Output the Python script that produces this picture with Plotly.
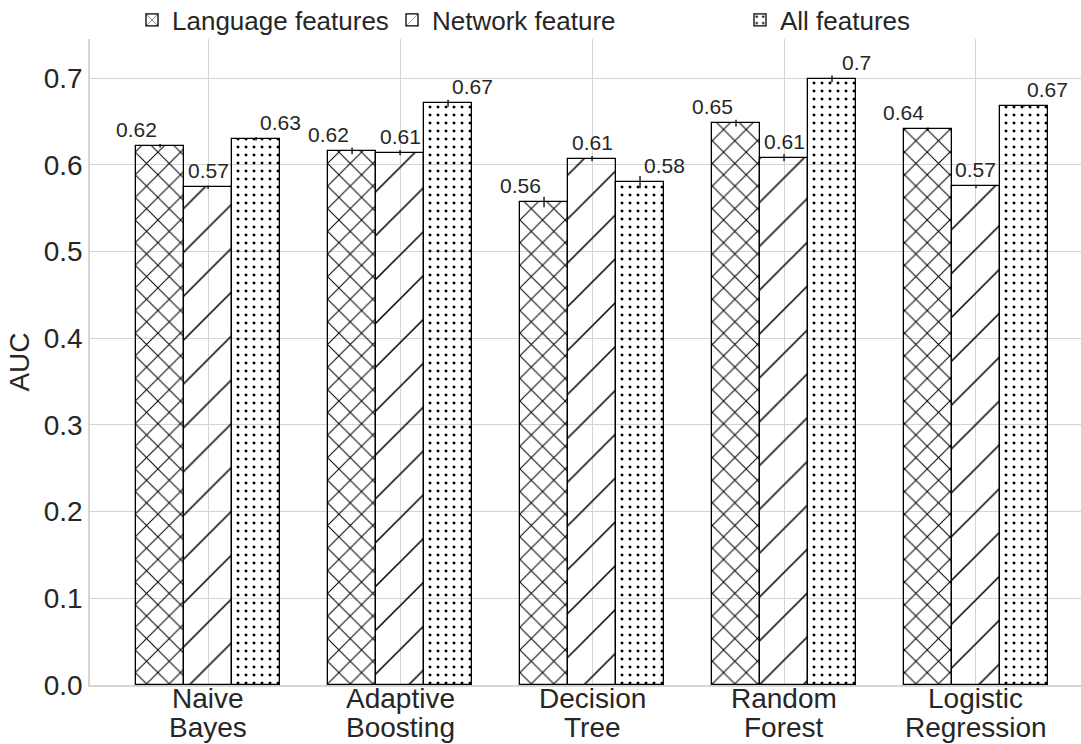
import plotly.graph_objects as go

categories = [("Naive", "Bayes"), ("Adaptive", "Boosting"), ("Decision", "Tree"), ("Random", "Forest"), ("Logistic", "Regression")]
language_auc = [0.622, 0.616, 0.557, 0.648, 0.641]
language_err = [0.002, 0.004, 0.006, 0.004, 0.002]
network_auc = [0.574, 0.614, 0.607, 0.608, 0.575]
network_err = [0.002, 0.003, 0.003, 0.004, 0.002]
all_auc = [0.630, 0.671, 0.580, 0.699, 0.668]
all_err = [0.002, 0.004, 0.007, 0.004, 0.001]
series_names = ["Language features", "Network feature", "All features"]

FONT = "Liberation Sans, Arial, sans-serif"
TXT = "#262626"
GRID = "#d4d4d4"
BW = 0.25
idx = list(range(len(categories)))

series = [
    (series_names[0], language_auc, language_err, "x", 16, 0.12, -1, "legend"),
    (series_names[1], network_auc, network_err, "/", 31, 0.05, 0, "legend2"),
    (series_names[2], all_auc, all_err, ".", 8, 0.11, 1, "legend3"),
]

fig = go.Figure()
annotations = []
for name, vals, errs, shape, size, sol, k, leg in series:
    xs = [i + k * BW for i in idx]
    fig.add_trace(go.Bar(
        x=xs, y=vals, width=BW, name=name, legend=leg,
        marker=dict(
            color="rgba(0,0,0,0)",
            line=dict(color="black", width=1.3),
            pattern=dict(shape=shape, size=size, solidity=sol, fgcolor="black",
                         bgcolor="rgba(0,0,0,0)", fillmode="replace"),
        ),
        error_y=dict(type="data", array=errs, color="black", thickness=1.3, width=0),
    ))
    for i, v in zip(idx, vals):
        annotations.append(dict(
            x=i + k * BW * 1.5, y=v,
            xref="x", yref="y", text=f"{round(v, 2):g}", showarrow=False,
            yanchor="bottom", xanchor="center", yshift=3,
            font=dict(family=FONT, size=21, color=TXT),
        ))

# category labels (two lines each)
for i, (l1, l2) in zip(idx, categories):
    for line, shift in ((l1, -13), (l2, -42)):
        annotations.append(dict(
            x=i, y=0, xref="x", yref="paper", text=line, showarrow=False,
            yanchor="middle", xanchor="center", yshift=shift,
            font=dict(family=FONT, size=28, color=TXT),
        ))

legend_common = dict(orientation="h", xref="container", yref="container", yanchor="middle",
                     y=1 - 20 / 744, bgcolor="rgba(0,0,0,0)",
                     font=dict(family=FONT, size=26, color=TXT), itemwidth=30)

fig.update_layout(
    width=1081, height=744,
    margin=dict(l=90, r=0, t=39, b=59, autoexpand=False),
    paper_bgcolor="white", plot_bgcolor="white",
    showlegend=True,
    legend=dict(legend_common, x=132 / 1081),
    legend2=dict(legend_common, x=392 / 1081),
    legend3=dict(legend_common, x=740 / 1081),
    annotations=annotations,
    bargap=0,
    font=dict(family=FONT, color=TXT),
)
fig.update_xaxes(
    range=[-0.615, 4.547], tickvals=idx, showticklabels=False, automargin=False,
    showgrid=True, gridcolor=GRID, gridwidth=1.2, zeroline=False,
    showline=True, linecolor=GRID, linewidth=1.5, ticks="",
)
fig.update_yaxes(
    range=[0, 0.745], dtick=0.1, tickformat=".1f", automargin=False,
    showgrid=True, gridcolor=GRID, gridwidth=1.2, zeroline=False,
    showline=True, linecolor=GRID, linewidth=1.5,
    tickfont=dict(family=FONT, size=28, color=TXT), ticks="",
    title=dict(text="AUC", font=dict(family=FONT, size=28, color=TXT), standoff=6),
)
fig.write_html("out.html", config={"displayModeBar": False},
               post_script="document.body.style.margin='0';")
